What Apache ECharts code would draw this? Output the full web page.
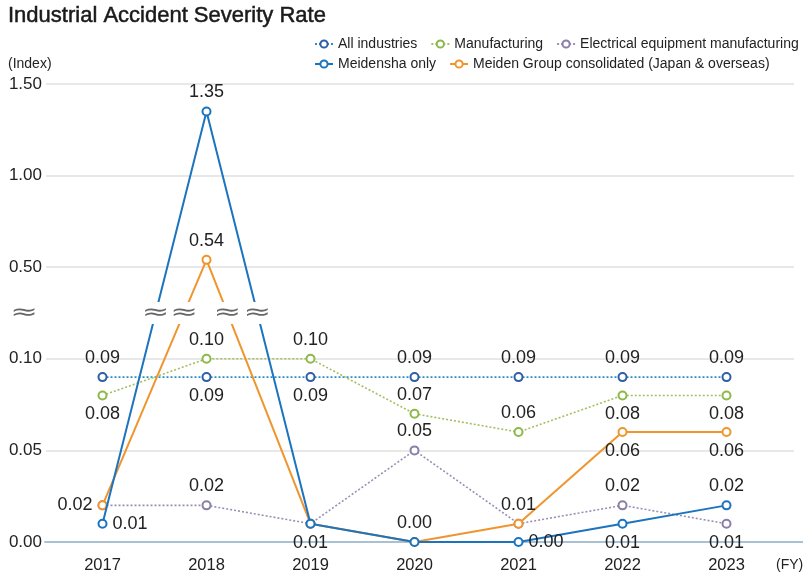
<!DOCTYPE html>
<html>
<head>
<meta charset="utf-8">
<script src="https://cdn.jsdelivr.net/npm/echarts@6/dist/echarts.min.js"></script>
<style>
  html, body { margin: 0; padding: 0; background: #fff; }
  #chart { width: 803px; height: 579px; }
</style>
</head>
<body>
<div id="chart"></div>
<script>
// Fiscal years and the broken y-axis tick values
const years = ['2017', '2018', '2019', '2020', '2021', '2022', '2023'];
const yTicks = [0, 0.05, 0.10, 0.50, 1.00, 1.50];

// Severity rate per fiscal year
const allIndustries = [0.09, 0.09, 0.09, 0.09, 0.09, 0.09, 0.09];
const manufacturing = [0.08, 0.10, 0.10, 0.07, 0.06, 0.08, 0.08];
const electrical = [0.02, 0.02, 0.01, 0.05, 0.01, 0.02, 0.01];
const meidensha = [0.01, 1.35, 0.01, 0.00, 0.00, 0.01, 0.02];
const meidenGroup = [0.02, 0.54, 0.01, 0.00, 0.01, 0.06, 0.06];

const FONT = '"Liberation Sans", Arial, Helvetica, sans-serif';

// Piecewise-linear scale: each tick interval occupies one axis unit
function toAxis(v) {
  for (let i = 0; i < yTicks.length - 1; i++) {
    if (v <= yTicks[i + 1]) return i + (v - yTicks[i]) / (yTicks[i + 1] - yTicks[i]);
  }
  return yTicks.length - 1;
}
const axisMax = yTicks.length - 1;
const breakAt = 2.5; // between 0.10 and 0.50

// Where each value label sits (null = no label)
const labelSides = {
  all:   ['top', 'bottom', 'bottom', 'top', 'top', 'top', 'top'],
  manu:  ['bottom', 'top', 'top', 'top', 'top', 'bottom', 'bottom'],
  elec:  ['left', 'top', null, 'top', null, 'top', 'bottom'],
  meid:  ['right', 'top', 'bottom', null, 'right', 'bottom', 'top'],
  group: [null, 'top', null, 'top', 'top', 'bottom', 'bottom']
};

function makeSeries(name, values, sides, color, markerColor, lineType, width, z) {
  return {
    type: 'line',
    name: name,
    xAxisIndex: 0,
    yAxisIndex: 0,
    z: z,
    symbol: 'emptyCircle',
    symbolSize: 8,
    lineStyle: { color: color, width: width, type: lineType },
    itemStyle: { color: markerColor, borderColor: markerColor, borderWidth: 1.8 },
    label: {
      formatter: p => values[p.dataIndex].toFixed(2),
      color: '#222',
      fontSize: 18,
      fontFamily: FONT,
      distance: 5
    },
    emphasis: { disabled: true },
    data: values.map((v, i) => ({
      value: toAxis(v),
      label: sides[i] ? { show: true, position: sides[i] } : { show: false }
    }))
  };
}

const seriesList = [
  makeSeries('All industries', allIndustries, labelSides.all, '#2b8fbf', '#2d5fa6', [2, 2], 1.6, 3),
  makeSeries('Manufacturing', manufacturing, labelSides.manu, '#a3bf5f', '#8cb948', [2, 2], 1.6, 3),
  makeSeries('Electrical equipment manufacturing', electrical, labelSides.elec, '#9a8fb3', '#8a7fa8', [2, 2], 1.6, 3),
  makeSeries('Meiden Group consolidated (Japan & overseas)', meidenGroup, labelSides.group, '#f0952e', '#f0952e', 'solid', 2, 4),
  makeSeries('Meidensha only', meidensha, labelSides.meid, '#1c74bf', '#1c74bf', 'solid', 2, 5)
];

const chart = echarts.init(document.getElementById('chart'), null, { renderer: 'canvas' });

const legendText = { fontSize: 14, color: '#222', fontFamily: FONT };

chart.setOption({
  animation: false,
  backgroundColor: '#fff',
  title: [
    { text: 'Industrial Accident Severity Rate', left: 8, top: 5, padding: 0,
      textStyle: { fontSize: 22, fontWeight: 'normal', color: '#1a1a1a', fontFamily: FONT,
                   textBorderColor: '#1a1a1a', textBorderWidth: 0.5 } },
    { text: '(Index)', left: 8, top: 57, padding: 0,
      textStyle: { fontSize: 14, fontWeight: 'normal', color: '#222', fontFamily: FONT } },
    { text: '(FY)', left: 776, top: 558, padding: 0,
      textStyle: { fontSize: 14, fontWeight: 'normal', color: '#222', fontFamily: FONT } }
  ],
  legend: [
    { data: ['All industries', 'Manufacturing', 'Electrical equipment manufacturing'],
      left: 314, top: 37, padding: 0, itemGap: 13, itemWidth: 18, itemHeight: 9,
      textStyle: legendText, selectedMode: false },
    { data: ['Meidensha only', 'Meiden Group consolidated (Japan & overseas)'],
      left: 314, top: 57, padding: 0, itemGap: 13, itemWidth: 18, itemHeight: 9,
      textStyle: legendText, selectedMode: false }
  ],
  grid: [
    { left: 50.5, right: 24.5, top: 84, bottom: 37 },
    { left: 46, right: 9, top: 84, bottom: 37 },
    { left: 45, right: 0, top: 84, bottom: 37 }
  ],
  xAxis: [
    { gridIndex: 0, type: 'category', data: years, boundaryGap: true,
      axisLine: { show: false }, axisTick: { show: false },
      axisLabel: { fontSize: 16.5, color: '#222', fontFamily: FONT, margin: 15 } },
    { gridIndex: 1, type: 'category', data: years, show: false },
    { gridIndex: 2, type: 'category', data: years,
      axisLine: { show: true, lineStyle: { color: '#a8c2d3', width: 2 } },
      axisTick: { show: false }, axisLabel: { show: false } }
  ],
  yAxis: [
    { gridIndex: 0, type: 'value', min: 0, max: axisMax, interval: 1, show: false },
    { gridIndex: 1, type: 'value', min: 0, max: axisMax, interval: 1,
      axisLine: { show: false }, axisTick: { show: false },
      axisLabel: { formatter: v => yTicks[v].toFixed(2), fontSize: 17, color: '#222',
                   fontFamily: FONT, margin: 4 },
      splitLine: { lineStyle: { color: '#e0e0e0', width: 1.5 } } },
    { gridIndex: 2, type: 'value', min: 0, max: axisMax, show: false }
  ],
  series: seriesList
});

// Break marks: one on the y-axis and one wherever a line crosses the break
function breakMark(x, y) {
  return {
    type: 'text', x: x, y: y, z: 100, scaleX: 1.5,
    style: { text: '\u2248', fontSize: 22, fill: '#666', fontFamily: '"DejaVu Sans", sans-serif',
             align: 'center', verticalAlign: 'middle', backgroundColor: '#fff', padding: [0, 1] }
  };
}
const marks = [];
const axisY = chart.convertToPixel({ gridIndex: 0 }, [0, breakAt])[1];
marks.push(breakMark(24, axisY));
[meidensha, meidenGroup].forEach(values => {
  for (let i = 0; i < values.length - 1; i++) {
    const a = toAxis(values[i]), b = toAxis(values[i + 1]);
    if ((a - breakAt) * (b - breakAt) < 0) {
      const p0 = chart.convertToPixel({ gridIndex: 0 }, [i, a]);
      const p1 = chart.convertToPixel({ gridIndex: 0 }, [i + 1, b]);
      const f = (breakAt - a) / (b - a);
      marks.push(breakMark(p0[0] + f * (p1[0] - p0[0]), p0[1] + f * (p1[1] - p0[1])));
    }
  }
});
chart.setOption({ graphic: marks });
</script>
</body>
</html>
